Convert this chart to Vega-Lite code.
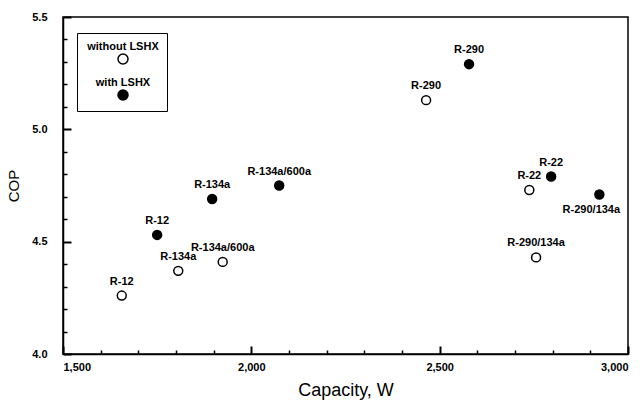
{
  "$schema": "https://vega.github.io/schema/vega-lite/v6.json",
  "width": 565,
  "height": 337,
  "autosize": "none",
  "padding": {"left": 63, "top": 17, "right": 15, "bottom": 46},
  "background": "white",
  "config": {
    "font": "Liberation Sans",
    "view": {"stroke": "black", "strokeWidth": 1.5},
    "axis": {"grid": false, "domainColor": "black", "domainWidth": 1.5, "tickColor": "black", "tickWidth": 2, "tickOpacity": 1, "labelColor": "black", "titleColor": "black", "labelFont": "Liberation Sans", "titleFont": "Liberation Sans"}
  },
  "data": {
    "values": [
      {"refrigerant": "R-12", "lshx": "without LSHX", "capacity": 1656, "cop": 4.26},
      {"refrigerant": "R-134a", "lshx": "without LSHX", "capacity": 1806, "cop": 4.37},
      {"refrigerant": "R-134a/600a", "lshx": "without LSHX", "capacity": 1924, "cop": 4.41},
      {"refrigerant": "R-290", "lshx": "without LSHX", "capacity": 2464, "cop": 5.13},
      {"refrigerant": "R-22", "lshx": "without LSHX", "capacity": 2738, "cop": 4.73},
      {"refrigerant": "R-290/134a", "lshx": "without LSHX", "capacity": 2756, "cop": 4.43},
      {"refrigerant": "R-12", "lshx": "with LSHX", "capacity": 1750, "cop": 4.53},
      {"refrigerant": "R-134a", "lshx": "with LSHX", "capacity": 1896, "cop": 4.69},
      {"refrigerant": "R-134a/600a", "lshx": "with LSHX", "capacity": 2074, "cop": 4.75},
      {"refrigerant": "R-290", "lshx": "with LSHX", "capacity": 2578, "cop": 5.29},
      {"refrigerant": "R-22", "lshx": "with LSHX", "capacity": 2796, "cop": 4.79},
      {"refrigerant": "R-290/134a", "lshx": "with LSHX", "capacity": 2924, "cop": 4.71}
    ]
  },
  "layer": [
    {
      "mark": {"type": "point", "filled": true, "size": 80, "stroke": "black", "strokeWidth": 1.5, "opacity": 1},
      "encoding": {
        "x": {"field": "capacity", "type": "quantitative", "scale": {"domain": [1500, 3000], "nice": false, "zero": false},
          "axis": {"orient": "bottom", "values": [1500, 2000, 2500, 3000], "format": ",d", "ticks": false, "labelPadding": 7, "labelFontSize": 11, "labelFontWeight": "bold", "title": "Capacity, W", "titleFontSize": 18, "titleFontWeight": "normal", "titlePadding": 9}},
        "y": {"field": "cop", "type": "quantitative", "scale": {"domain": [4, 5.5], "nice": false, "zero": false},
          "axis": {"orient": "left", "values": [4, 4.5, 5, 5.5], "format": ".1f", "ticks": false, "labelPadding": 16, "labelFontSize": 11, "labelFontWeight": "bold", "title": "COP", "titleFontSize": 15, "titleFontWeight": "normal", "titlePadding": 10}},
        "fill": {"field": "lshx", "type": "nominal", "scale": {"domain": ["without LSHX", "with LSHX"], "range": ["white", "black"]},
          "legend": {"title": null, "orient": "none", "legendX": 14, "legendY": 16, "direction": "vertical", "strokeColor": "black", "fillColor": "white", "padding": 8, "symbolOffset": 32, "labelAlign": "center", "labelOffset": -6, "labelBaseline": "middle", "labelExpr": "' ' + datum.label + ' '", "labelFontSize": 11, "labelFontWeight": "bold", "labelColor": "black", "symbolType": "M -1 2.4 A 1 1 0 1 0 1 2.4 A 1 1 0 1 0 -1 2.4 Z", "symbolSize": 100, "symbolStrokeColor": "black", "symbolStrokeWidth": 1.5, "rowPadding": 10}}
      }
    },
    {
      "transform": [{"filter": "!(datum.refrigerant == 'R-290/134a' && datum.lshx == 'with LSHX')"}],
      "mark": {"type": "text", "dy": -14, "fontSize": 11, "fontWeight": "bold", "color": "black"},
      "encoding": {
        "x": {"field": "capacity", "type": "quantitative", "axis": {"orient": "bottom", "offset": -8, "values": [1500, 2000, 2500, 3000], "labels": false, "domain": false, "ticks": true, "tickSize": 8, "tickColor": "black", "tickWidth": 2, "title": null}},
        "y": {"field": "cop", "type": "quantitative", "axis": {"orient": "left", "offset": -8, "values": [4, 4.5, 5, 5.5], "labels": false, "domain": false, "ticks": true, "tickSize": 8, "tickColor": "black", "tickWidth": 2, "title": null}},
        "text": {"field": "refrigerant"}
      }
    },
    {
      "transform": [{"filter": "datum.refrigerant == 'R-290/134a' && datum.lshx == 'with LSHX'"}],
      "mark": {"type": "text", "dy": 16, "dx": -8, "fontSize": 11, "fontWeight": "bold", "color": "black"},
      "encoding": {
        "x": {"field": "capacity", "type": "quantitative", "axis": {"orient": "bottom", "offset": -4, "values": [1600, 1700, 1800, 1900, 2100, 2200, 2300, 2400, 2600, 2700, 2800, 2900], "labels": false, "domain": false, "ticks": true, "tickSize": 4, "tickColor": "black", "tickWidth": 1.5, "title": null}},
        "y": {"field": "cop", "type": "quantitative", "axis": {"orient": "left", "offset": -4, "values": [4.1, 4.2, 4.3, 4.4, 4.6, 4.7, 4.8, 4.9, 5.1, 5.2, 5.3, 5.4], "labels": false, "domain": false, "ticks": true, "tickSize": 4, "tickColor": "black", "tickWidth": 1.5, "title": null}},
        "text": {"field": "refrigerant"}
      }
    }
  ],
  "resolve": {"axis": {"x": "independent", "y": "independent"}}
}
